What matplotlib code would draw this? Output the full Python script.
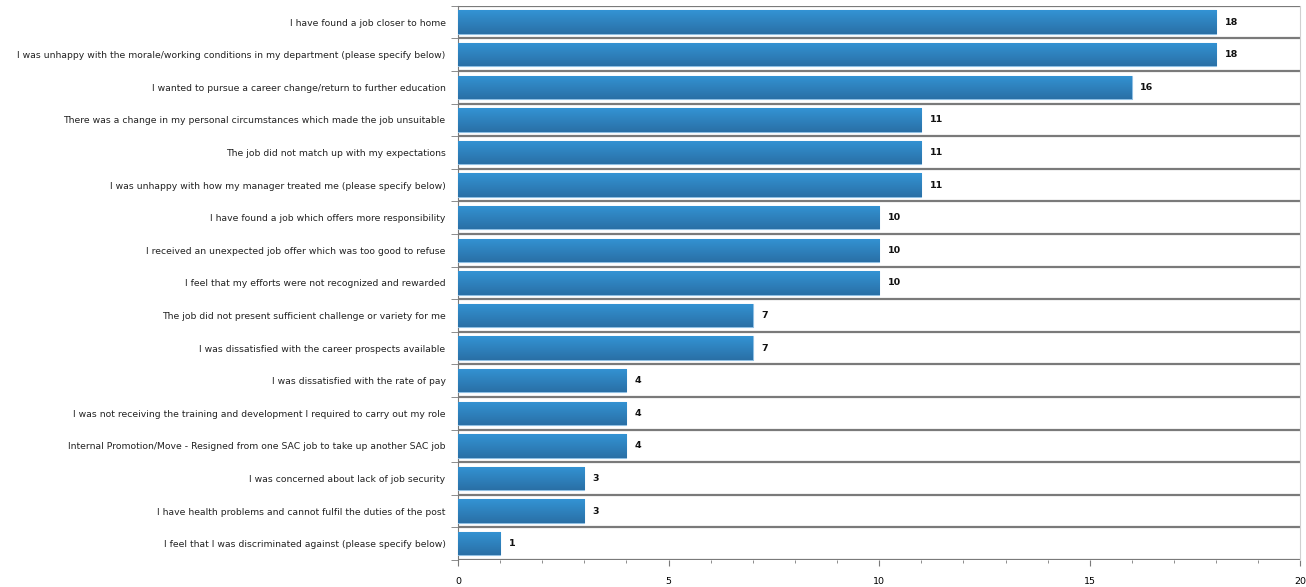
import matplotlib.pyplot as plt
import numpy as np
from matplotlib.colors import LinearSegmentedColormap

# categories, top to bottom
reasons = [
    "I have found a job closer to home",
    "I was unhappy with the morale/working conditions in my department (please specify below)",
    "I wanted to pursue a career change/return to further education",
    "There was a change in my personal circumstances which made the job unsuitable",
    "The job did not match up with my expectations",
    "I was unhappy with how my manager treated me (please specify below)",
    "I have found a job which offers more responsibility",
    "I received an unexpected job offer which was too good to refuse",
    "I feel that my efforts were not recognized and rewarded",
    "The job did not present sufficient challenge or variety for me",
    "I was dissatisfied with the career prospects available",
    "I was dissatisfied with the rate of pay",
    "I was not receiving the training and development I required to carry out my role",
    "Internal Promotion/Move - Resigned from one SAC job to take up another SAC job",
    "I was concerned about lack of job security",
    "I have health problems and cannot fulfil the duties of the post",
    "I feel that I was discriminated against (please specify below)",
]
counts = [18, 18, 16, 11, 11, 11, 10, 10, 10, 7, 7, 4, 4, 4, 3, 3, 1]
x_ticks = [0, 5, 10, 15, 20]

fig = plt.figure(figsize=(13.06, 5.87), dpi=100)
ax = fig.add_axes([0.3507, 0.046, 0.645, 0.944])

n = len(reasons)
ypos = np.arange(n)
bars = ax.barh(ypos, counts, height=0.72, color='#2d82c0',
               edgecolor='#8fbfe3', linewidth=0.8, zorder=3)

# vertical gradient on each bar (lighter top, darker bottom)
grad = np.linspace(0, 1, 64).reshape(-1, 1)
cmap = LinearSegmentedColormap.from_list('bar', ['#3393d4', '#2a70a6'])
for b in bars:
    x0, y0 = b.get_x(), b.get_y()
    w, h = b.get_width(), b.get_height()
    im = ax.imshow(grad, cmap=cmap, aspect='auto', extent=[x0, x0 + w, y0 + h, y0],
                   zorder=3.5, interpolation='bilinear')
    im.set_clip_path(b)

for y, v in zip(ypos, counts):
    ax.text(v + 0.2, y, str(v), va='center', ha='left', fontsize=6.8,
            fontweight='bold', color='#111111', zorder=5)

# row separators
for k in range(n + 1):
    ax.axhline(k - 0.5, color='#7a7a7a', linewidth=1.6, zorder=2)

ax.set_ylim(n - 0.5, -0.5)
ax.set_xlim(0, 20)
ax.set_yticks(ypos)
ax.set_yticklabels(reasons, fontsize=6.7, color='#222222')
ax.set_yticks(np.arange(n + 1) - 0.5, minor=True)
ax.tick_params(axis='y', which='major', length=0, pad=9)
ax.tick_params(axis='y', which='minor', length=5, color='#7a7a7a')
ax.set_xticks(x_ticks)
ax.set_xticks(np.arange(0, 21, 1), minor=True)
ax.tick_params(axis='x', which='major', length=4, labelsize=6.8, color='#7a7a7a', pad=8)
ax.tick_params(axis='x', which='minor', length=2, color='#7a7a7a')

ax.spines['top'].set_visible(False)
ax.spines['right'].set_color('#d0d0d0')
ax.spines['left'].set_color('#7a7a7a')
ax.spines['bottom'].set_visible(False)

fig.savefig('out.png', dpi=100)
